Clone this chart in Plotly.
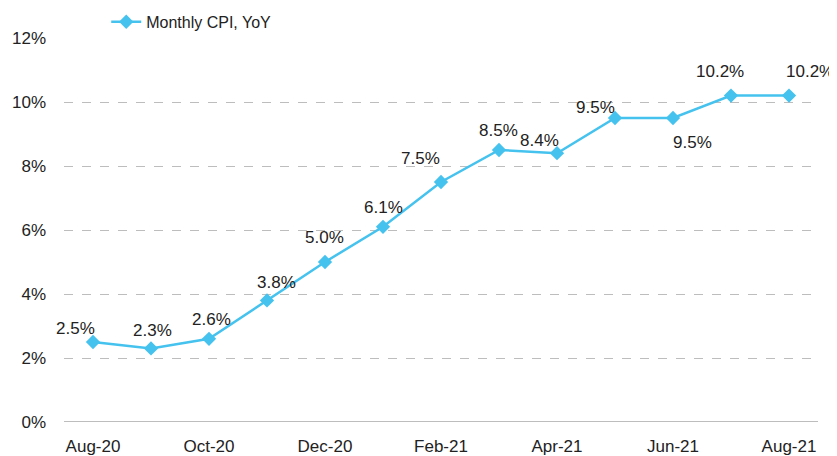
import plotly.graph_objects as go

months = ["Aug-20", "Sep-20", "Oct-20", "Nov-20", "Dec-20", "Jan-21", "Feb-21",
          "Mar-21", "Apr-21", "May-21", "Jun-21", "Jul-21", "Aug-21"]
cpi = [2.5, 2.3, 2.6, 3.8, 5.0, 6.1, 7.5, 8.5, 8.4, 9.5, 9.5, 10.2, 10.2]
tick_labels = ["Aug-20", "Oct-20", "Dec-20", "Feb-21", "Apr-21", "Jun-21", "Aug-21"]
y_ticks = [0, 2, 4, 6, 8, 10, 12]

# label offsets (pixels) per point
label_dx = [-18, 1, 2, 9, -1, 0, -21, -1, -18, -20, 19, -11, 21]
label_dy = [14, 18, 19, 18, 25, 19, 24, 20, 13, 11, -24, 24, 24]

color = "#45C2EE"
font = "Liberation Sans, Arial, sans-serif"

fig = go.Figure()
fig.add_trace(go.Scatter(
    x=months, y=cpi, mode="lines+markers", name="Monthly CPI, YoY",
    line=dict(color=color, width=2.5),
    marker=dict(symbol="diamond", size=11, color=color),
))

for i, (m, v) in enumerate(zip(months, cpi)):
    fig.add_annotation(x=m, y=v, text=f"{v:.1f}%", showarrow=False,
                       xshift=label_dx[i], yshift=label_dy[i],
                       font=dict(size=17, color="#222222", family=font))

# page body has an 8px offset; figure sized to fill the 837x456 window
fig.update_layout(
    width=829, height=448,
    margin=dict(l=56, r=19, t=30, b=34, autoexpand=False),
    paper_bgcolor="white", plot_bgcolor="white",
    font=dict(family=font, size=17, color="#222222"),
    showlegend=True,
    legend=dict(orientation="h", x=0.056, y=1.042, xanchor="left", yanchor="middle",
                font=dict(size=16), bgcolor="rgba(0,0,0,0)"),
    xaxis=dict(
        type="category", categoryorder="array", categoryarray=months,
        range=[-0.5, 12.5], tickmode="array", tickvals=tick_labels, ticktext=tick_labels,
        showgrid=False, showline=False, ticks="", zeroline=False,
        tickfont=dict(size=17), ticklabelstandoff=12,
    ),
    yaxis=dict(
        range=[0, 12], tickvals=y_ticks, ticktext=[f"{t}%" for t in y_ticks],
        showgrid=True, gridcolor="#BDBDBD", griddash="dash", gridwidth=1,
        zeroline=False, showline=False, ticks="", tickfont=dict(size=17),
        ticklabelstandoff=17,
    ),
)
fig.add_shape(type="line", xref="paper", yref="y", x0=0, x1=1, y0=0, y1=0,
              line=dict(color="#BDBDBD", width=2))

fig.write_html("out.html")
